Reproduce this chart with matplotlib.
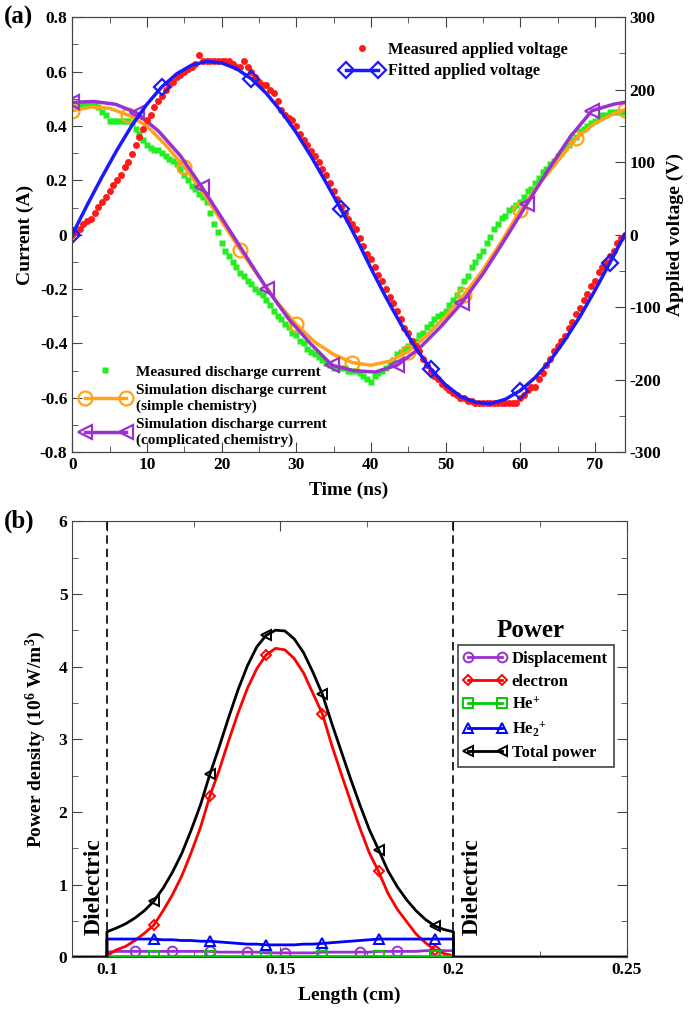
import numpy as np
import matplotlib.pyplot as plt
from matplotlib.ticker import MultipleLocator, FuncFormatter
from matplotlib.legend_handler import HandlerLine2D

plt.rcParams['font.family'] = ['Liberation Serif', 'DejaVu Serif']
plt.rcParams['font.weight'] = 'bold'
plt.rcParams['axes.labelweight'] = 'bold'
plt.rcParams['axes.unicode_minus'] = False
plt.rcParams['mathtext.fontset'] = 'custom'
plt.rcParams['mathtext.rm'] = 'Liberation Serif:bold'
plt.rcParams['mathtext.it'] = 'Liberation Serif:bold'
plt.rcParams['mathtext.bf'] = 'Liberation Serif:bold'
plt.rcParams['mathtext.default'] = 'rm'

# ---------------- panel (a) data ----------------
# measured applied voltage (V), sampled every 0.5 ns
t_meas = np.arange(0, 74.5, 0.5)
v_meas = [0, 4, 8, 15, 19, 22, 30, 38, 45, 52,
          60, 68, 75, 82, 94, 101, 112, 124, 135, 146,
          158, 165, 176, 184, 191, 199, 206, 210, 218, 221,
          225, 229, 232, 236, 248, 240, 240, 240, 240, 240,
          240, 240, 240, 236, 232, 232, 240, 232, 225, 218,
          210, 206, 206, 199, 195, 184, 172, 165, 161, 158,
          150, 139, 131, 124, 116, 109, 101, 90, 82, 71,
          60, 49, 38, 30, 22, 15, 8, -4, -15, -26,
          -34, -45, -56, -64, -75, -86, -94, -105, -116, -128,
          -135, -146, -154, -161, -172, -180, -188, -195, -199, -206,
          -210, -214, -218, -221, -225, -225, -229, -229, -232, -232,
          -232, -232, -232, -232, -232, -232, -232, -232, -232, -232,
          -225, -221, -214, -210, -210, -199, -191, -180, -172, -161,
          -154, -146, -139, -128, -120, -109, -101, -90, -82, -71,
          -64, -52, -45, -38, -30, -22, -11, -4, 0]

# measured discharge current (A), sampled every 0.5 ns
i_meas = [0.48, 0.48, 0.48, 0.48, 0.48, 0.48, 0.48, 0.47, 0.45, 0.44,
          0.42, 0.42, 0.42, 0.42, 0.42, 0.42, 0.41, 0.39, 0.37, 0.35,
          0.33, 0.32, 0.31, 0.31, 0.30, 0.29, 0.28, 0.27, 0.26, 0.24,
          0.22, 0.20, 0.18, 0.17, 0.15, 0.14, 0.12, 0.08, 0.04, 0.01,
          -0.03, -0.06, -0.08, -0.10, -0.12, -0.14, -0.15, -0.17, -0.18, -0.20,
          -0.21, -0.22, -0.24, -0.26, -0.28, -0.30, -0.31, -0.33, -0.34, -0.36,
          -0.37, -0.39, -0.40, -0.42, -0.43, -0.44, -0.45, -0.46, -0.47, -0.48,
          -0.49, -0.49, -0.49, -0.49, -0.50, -0.50, -0.50, -0.51, -0.52, -0.53,
          -0.54, -0.52, -0.51, -0.50, -0.49, -0.47, -0.46, -0.44, -0.43, -0.42,
          -0.41, -0.40, -0.39, -0.37, -0.36, -0.34, -0.33, -0.31, -0.30, -0.29,
          -0.28, -0.26, -0.24, -0.22, -0.20, -0.17, -0.15, -0.12, -0.10, -0.08,
          -0.06, -0.03, -0.01, 0.02, 0.04, 0.06, 0.07, 0.09, 0.10, 0.11,
          0.12, 0.14, 0.16, 0.17, 0.19, 0.21, 0.23, 0.24, 0.26, 0.27,
          0.29, 0.30, 0.32, 0.33, 0.35, 0.36, 0.38, 0.39, 0.40, 0.41,
          0.42, 0.43, 0.44, 0.44, 0.45, 0.45, 0.45, 0.45, 0.45]

# fitted applied voltage (V)
t_fit = [0, 2, 4, 6, 8, 10, 12, 14, 16, 18, 20, 22, 24, 26, 28, 30, 32, 34, 36,
         38, 40, 42, 44, 46, 48, 50, 52, 54, 56, 58, 60, 62, 64, 66, 68, 70, 72, 74]
v_fit = [0, 41, 80, 117, 151, 180, 204, 222, 234, 239, 237, 229, 215, 195, 170,
         141, 108, 72, 35, -4, -46, -86, -123, -156, -185, -207, -223, -231,
         -233, -227, -215, -197, -174, -145, -113, -77, -39, 0]

# simulation, simple chemistry
t_simple = [0, 2.5, 5, 7.5, 10, 12.5, 15, 17.5, 20, 22.5, 25, 27.5, 30, 32.5, 35,
            37.5, 40, 42.5, 45, 47.5, 50, 52.5, 55, 57.5, 60, 62.5, 65, 67.5, 70,
            72.5, 74]
i_simple = [0.456, 0.47, 0.465, 0.44, 0.40, 0.33, 0.25, 0.155, 0.05, -0.055, -0.155,
            -0.25, -0.33, -0.395, -0.44, -0.47, -0.48, -0.465, -0.43, -0.37, -0.30,
            -0.22, -0.13, -0.025, 0.09, 0.185, 0.27, 0.355, 0.41, 0.445, 0.46]

# simulation, complicated chemistry
t_compl = [0, 2.9, 5.8, 8.7, 11.6, 14.5, 17.4, 20.3, 23.2, 26.1, 29.0, 31.9,
           34.8, 37.7, 40.6, 43.5, 46.4, 49.3, 52.2, 55.1, 58.0, 60.9, 63.8,
           66.7, 69.6, 72.5, 74]
i_compl = [0.487, 0.49, 0.48, 0.447, 0.38, 0.29, 0.174, 0.05, -0.075, -0.20, -0.31,
           -0.40, -0.48, -0.50, -0.505, -0.48, -0.42, -0.34, -0.25, -0.14, -0.015,
           0.113, 0.24, 0.36, 0.456, 0.48, 0.487]

# ---------------- panel (b) data ----------------
x_edge_l = [0.09, 0.1]
x_edge_r = [0.2, 0.25]
x_gap = np.linspace(0.1, 0.2, 38)

p_displ = [0.07, 0.08, 0.08, 0.08, 0.08, 0.08, 0.08, 0.08, 0.08, 0.08,
           0.08, 0.08, 0.07, 0.07, 0.07, 0.07, 0.07, 0.06, 0.06, 0.06,
           0.06, 0.06, 0.06, 0.07, 0.07, 0.07, 0.07, 0.07, 0.07, 0.08,
           0.08, 0.08, 0.08, 0.08, 0.09, 0.09, 0.09, 0.09]
p_elec = [0.02, 0.10, 0.15, 0.23, 0.33, 0.44, 0.64, 0.86, 1.12, 1.44,
          1.79, 2.22, 2.58, 2.98, 3.36, 3.70, 3.97, 4.16, 4.25, 4.23,
          4.11, 3.91, 3.63, 3.35, 2.92, 2.53, 2.15, 1.78, 1.44, 1.18,
          0.88, 0.66, 0.49, 0.32, 0.20, 0.10, 0.05, 0.02]
p_hep = [0.01, 0.01, 0.01, 0.01, 0.01, 0.01, 0.01, 0.01, 0.01, 0.01,
         0.01, 0.01, 0.01, 0.01, 0.01, 0.01, 0.01, 0.01, 0.01, 0.01,
         0.01, 0.01, 0.01, 0.01, 0.01, 0.01, 0.01, 0.01, 0.01, 0.01,
         0.01, 0.01, 0.01, 0.01, 0.01, 0.01, 0.01, 0.01]
p_he2p = [0.25, 0.25, 0.25, 0.25, 0.25, 0.25, 0.24, 0.24, 0.23, 0.23,
          0.22, 0.22, 0.21, 0.20, 0.19, 0.18, 0.18, 0.17, 0.17, 0.17,
          0.17, 0.18, 0.18, 0.19, 0.20, 0.21, 0.22, 0.23, 0.24, 0.25,
          0.25, 0.25, 0.25, 0.25, 0.25, 0.25, 0.25, 0.25]
p_total = [0.35, 0.40, 0.46, 0.54, 0.64, 0.77, 0.95, 1.17, 1.43, 1.75,
           2.10, 2.52, 2.90, 3.30, 3.68, 4.01, 4.27, 4.43, 4.50, 4.49,
           4.38, 4.19, 3.92, 3.62, 3.22, 2.84, 2.46, 2.10, 1.76, 1.48,
           1.19, 0.97, 0.79, 0.64, 0.52, 0.43, 0.38, 0.35]


def full(vals):
    # zero outside the gap, jump at both dielectric surfaces
    x = np.concatenate((x_edge_l, x_gap, x_edge_r))
    y = np.concatenate(([0, 0], vals, [0, 0]))
    return x, y


class EndMarkers(HandlerLine2D):
    # legend sample with a marker at both ends, ignoring markevery of the data line
    def create_artists(self, *args, **kwargs):
        arts = super().create_artists(*args, **kwargs)
        for a in arts:
            a.set_markevery(None)
        return arts


fig = plt.figure(figsize=(6.88, 10.14), dpi=100)
spine_col = '#444444'

# ================= panel (a) =================
ax1 = fig.add_axes([0.105, 0.554, 0.803, 0.429])
ax2 = ax1.twinx()

l_green, = ax1.plot(t_meas, i_meas, 's', color='#22ee22', ms=4.5, mec='none',
                    label='Measured discharge current')
l_orange, = ax1.plot(t_simple, i_simple, '-', color='#ffa31a', lw=2.5,
                     marker='o', ms=10, mfc='none', mew=1.6, markevery=3,
                     label='Simulation discharge current\n(simple chemistry)')
l_purple, = ax1.plot(t_compl, i_compl, '-', color='#9b30d0', lw=2.5,
                     marker='<', ms=10, mfc='none', mew=1.6, markevery=3,
                     label='Simulation discharge current\n(complicated chemistry)')

l_red, = ax2.plot(t_meas, v_meas, 'o', color='#ff1a1a', ms=5, mec='none',
                  label='Measured applied voltage')
l_blue, = ax2.plot(t_fit, v_fit, '-', color='#1a1aff', lw=2.5,
                   marker='D', ms=8, mfc='none', mew=1.6, markevery=6,
                   label='Fitted applied voltage')

ax1.set_xlim(0, 74)
ax1.set_ylim(-0.8, 0.8)
ax2.set_ylim(-300, 300)
ax1.xaxis.set_major_locator(MultipleLocator(10))
ax1.xaxis.set_minor_locator(MultipleLocator(5))
ax1.yaxis.set_major_locator(MultipleLocator(0.2))
ax1.yaxis.set_minor_locator(MultipleLocator(0.1))
ax2.yaxis.set_major_locator(MultipleLocator(100))
ax2.yaxis.set_minor_locator(MultipleLocator(50))
ax1.yaxis.set_major_formatter(FuncFormatter(lambda v, p: '0' if abs(v) < 1e-9 else f'{v:.1f}'))
ax2.yaxis.set_major_formatter(FuncFormatter(lambda v, p: f'{v:.0f}'))

ax1.tick_params(which='both', direction='in', top=True, right=False, labelsize=12.5)
ax2.tick_params(which='both', direction='in', labelsize=12.5)
for ax in (ax1, ax2):
    ax.tick_params(which='major', length=7, color=spine_col)
    ax.tick_params(which='minor', length=4, color=spine_col)
    for s in ax.spines.values():
        s.set_color(spine_col)

ax1.set_xlabel('Time (ns)', fontsize=14, labelpad=6)
ax1.set_ylabel('Current (A)', fontsize=14, labelpad=4)
ax2.set_ylabel('Applied voltage (V)', fontsize=14, labelpad=4)

leg1 = ax2.legend(handles=[l_red, l_blue], loc='upper left', bbox_to_anchor=(0.465, 0.97),
                  frameon=False, fontsize=11.8, handlelength=2.6, handletextpad=0.3,
                  labelspacing=0.35, borderpad=0.2,
                  handler_map={l_red: HandlerLine2D(numpoints=1),
                               l_blue: EndMarkers(numpoints=2)})
leg2 = ax2.legend(handles=[l_green, l_orange, l_purple], loc='upper left',
                  bbox_to_anchor=(-0.005, 0.225), frameon=False, fontsize=11,
                  handlelength=3.3, handletextpad=0.35, labelspacing=0.35,
                  borderpad=0.2,
                  handler_map={l_green: HandlerLine2D(numpoints=1),
                               l_orange: EndMarkers(numpoints=2),
                               l_purple: EndMarkers(numpoints=2)})
ax2.add_artist(leg1)

fig.text(0.005, 0.983, '(a)', fontsize=18, fontweight='bold', va='center', ha='left')

# ================= panel (b) =================
ax3 = fig.add_axes([0.105, 0.056, 0.806, 0.43])

mk_tri = list(range(7, 40, 6))
mk_circ = list(range(5, 40, 4))

x, y = full(p_displ)
h_displ, = ax3.plot(x, y, '-', color='#9b30d0', lw=2, marker='o', ms=7, mfc='none',
                    mew=1.4, markevery=mk_circ, label='Displacement')
x, y = full(p_elec)
h_elec, = ax3.plot(x, y, '-', color='#ff0000', lw=2, marker='D', ms=5.5, mfc='none',
                   mew=1.4, markevery=mk_tri, label='electron')
x, y = full(p_hep)
h_hep, = ax3.plot(x, y, '-', color='#00cc00', lw=2, marker='s', ms=7, mfc='none',
                  mew=1.4, markevery=mk_tri, label='He$^{+}$')
x, y = full(p_he2p)
h_he2p, = ax3.plot(x, y, '-', color='#0000ff', lw=2, marker='^', ms=7.5, mfc='none',
                   mew=1.4, markevery=mk_tri, label='He$_{2}$$^{+}$')
x, y = full(p_total)
h_total, = ax3.plot(x, y, '-', color='#000000', lw=2, marker='<', ms=7.5, mfc='none',
                    mew=1.4, markevery=mk_tri, label='Total power')

ax3.axvline(0.1, color='black', ls=(0, (5, 3)), lw=1.2)
ax3.axvline(0.2, color='black', ls=(0, (5, 3)), lw=1.2)
ax3.text(0.0962, 0.97, 'Dielectric', rotation=90, fontsize=17, fontweight='bold',
         ha='center', va='center')
ax3.text(0.2055, 0.97, 'Dielectric', rotation=90, fontsize=17, fontweight='bold',
         ha='center', va='center')

ax3.set_xlim(0.09, 0.25)
ax3.set_ylim(0, 6)
ax3.set_xticks([0.1, 0.15, 0.2, 0.25])
ax3.set_xticklabels(['0.1', '0.15', '0.2', '0.25'])
ax3.xaxis.set_minor_locator(MultipleLocator(0.025))
ax3.yaxis.set_major_locator(MultipleLocator(1))
ax3.yaxis.set_minor_locator(MultipleLocator(0.5))
ax3.tick_params(which='both', direction='in', top=True, right=True, labelsize=12.5,
                color=spine_col)
ax3.tick_params(which='major', length=7)
ax3.tick_params(which='minor', length=4)
for s in ax3.spines.values():
    s.set_color(spine_col)

ax3.set_xlabel('Length (cm)', fontsize=14, labelpad=6)
ax3.set_ylabel('Power density (10$^{6}$ W/m$^{3}$)', fontsize=14, labelpad=8)

power_handles = [h_displ, h_elec, h_hep, h_he2p, h_total]
leg3 = ax3.legend(handles=power_handles, loc='upper left',
                  bbox_to_anchor=(0.695, 0.716), fontsize=12, handlelength=2.6,
                  handletextpad=0.3, labelspacing=0.4, borderpad=0.35,
                  borderaxespad=0, fancybox=False, framealpha=1, edgecolor='#444444',
                  handler_map={h: EndMarkers(numpoints=2) for h in power_handles})
leg3.get_frame().set_linewidth(1.2)
ax3.text(0.827, 0.75, 'Power', transform=ax3.transAxes, fontsize=18,
         fontweight='bold', ha='center', va='center')

fig.text(0.005, 0.486, '(b)', fontsize=18, fontweight='bold', va='center', ha='left')

fig.savefig('out.png', dpi=100)
